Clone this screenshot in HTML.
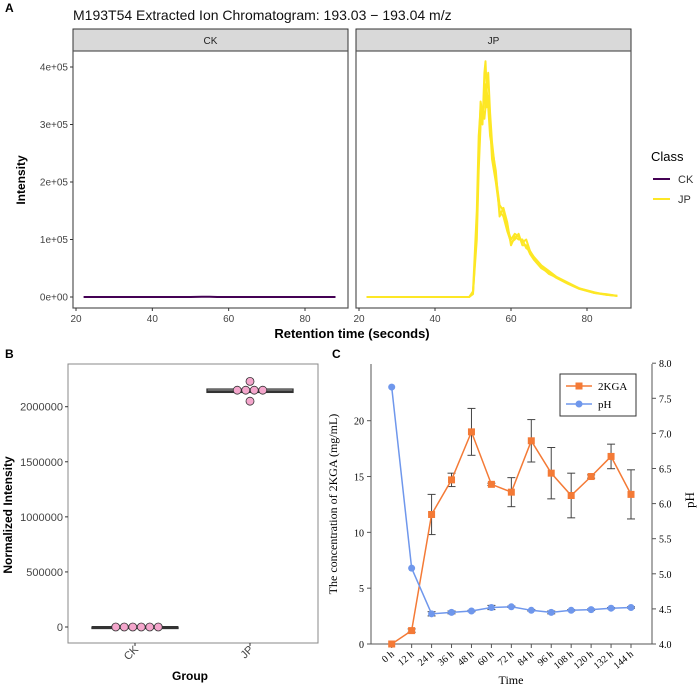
<!DOCTYPE html>
<html><head><meta charset="utf-8">
<style>
body{margin:0;background:#fff;}
svg{display:block;font-family:"Liberation Sans",sans-serif;}
.ser{font-family:"Liberation Serif",serif;}
</style></head>
<body>
<svg id="c" width="700" height="688" viewBox="0 0 700 688"></svg>
<script>
// Panel A data
const rtJP=[22,49,50,51,51.5,52,52.5,53,53.3,53.6,54,54.5,55,56,57,58,59,60,61,62,63,64,65,66,68,70,72,75,78,82,85,88];
const intJP1=[0,0,0.1,1.5,2.8,3.3,3.0,3.9,4.1,3.6,3.9,3.2,2.7,2.1,1.6,1.5,1.2,1.0,1.1,1.05,0.95,1.0,0.8,0.7,0.55,0.45,0.35,0.25,0.15,0.08,0.04,0.02];
const intJP2=[0,0,0.05,1.2,2.5,3.4,3.2,3.4,3.7,3.3,3.5,3.0,2.4,2.0,1.5,1.4,1.15,0.95,1.0,1.1,0.9,0.9,0.75,0.65,0.5,0.42,0.33,0.23,0.14,0.07,0.04,0.02];
const intJP3=[0,0,0.08,1.0,2.2,3.0,3.3,3.1,3.3,3.6,3.3,2.8,2.6,2.2,1.4,1.55,1.3,0.9,1.05,1.0,1.0,0.85,0.8,0.68,0.52,0.4,0.34,0.24,0.15,0.07,0.05,0.02];
const rtCK=[22,50,53,55,57,60,88];
const intCK=[0,0,0.005,0.003,0,0,0];
const aYTicks=[0,1,2,3,4];
const aYLabels=["0e+00","1e+05","2e+05","3e+05","4e+05"];
const aXTicks=[20,40,60,80];
// Panel B data
const bGroups=["CK","JP"];
const bCK=[0,0,0,0,0,0];
const bJP=[2150000,2150000,2150000,2150000,2230000,2050000];
const bBoxes=[[0,0,0],[2130000,2140000,2160000]];
const bYTicks=[0,500000,1000000,1500000,2000000];
// Panel C data
const cTimes=["0 h","12 h","24 h","36 h","48 h","60 h","72 h","84 h","96 h","108 h","120 h","132 h","144 h"];
const kga=[0,1.2,11.6,14.7,19,14.3,13.6,18.2,15.3,13.3,15,16.8,13.4];
const kgaErr=[0,0.15,1.8,0.6,2.1,0.1,1.3,1.9,2.3,2.0,0.15,1.1,2.2];
const ph=[7.66,5.08,4.43,4.45,4.47,4.52,4.53,4.48,4.45,4.48,4.49,4.51,4.52];
const phErr=[0,0,0.03,0.02,0.01,0.03,0.01,0.01,0.02,0.01,0.01,0.01,0.01];
const cLTicks=[0,5,10,15,20];
const cRTicks=[4.0,4.5,5.0,5.5,6.0,6.5,7.0,7.5,8.0];

const svg=document.getElementById('c');
const NS='http://www.w3.org/2000/svg';
function mk(tag,attrs,parent,txt){const e=document.createElementNS(NS,tag);for(const k in attrs)e.setAttribute(k,attrs[k]);if(txt!==undefined)e.textContent=txt;(parent||svg).appendChild(e);return e;}

let t;
t=mk('text',{x:5,y:12,'font-size':12,'font-weight':'bold'},svg,'A');
t=mk('text',{x:5,y:358,'font-size':12,'font-weight':'bold'},svg,'B');
t=mk('text',{x:332,y:358,'font-size':12,'font-weight':'bold'},svg,'C');
t=mk('text',{x:73,y:20,'font-size':14,fill:'#111'},svg,'M193T54 Extracted Ion Chromatogram: 193.03 − 193.04 m/z');

// Panel A
const aTop=51,aBot=308;
const ayS=v=>297-v*(297-67)/4;
const panels=[{x0:73,x1:348,name:'CK',xs:v=>76+(v-20)*(305-76)/60},{x0:356,x1:631,name:'JP',xs:v=>359+(v-20)*(587-359)/60}];
panels.forEach((p,i)=>{
  let r=mk('rect',{x:p.x0,y:29,width:p.x1-p.x0,height:22,fill:'#d9d9d9',stroke:'#333','stroke-width':1});
  
  let s=mk('text',{x:(p.x0+p.x1)/2,y:44,'font-size':10,'text-anchor':'middle',fill:'#222'},svg,p.name);
  
  r=mk('rect',{x:p.x0,y:aTop,width:p.x1-p.x0,height:aBot-aTop,fill:'#fff',stroke:'#555','stroke-width':1.2});
  
  aXTicks.forEach(v=>{const x=p.xs(v);mk('line',{x1:x,x2:x,y1:aBot,y2:aBot+3,stroke:'#333'});
    const l=mk('text',{x:x,y:aBot+14,'font-size':10,'text-anchor':'middle',fill:'#444'},svg,String(v));});
});
aYTicks.forEach((v,i)=>{const y=ayS(v);mk('line',{x1:70,x2:73,y1:y,y2:y,stroke:'#333'});
  const l=mk('text',{x:68,y:y+3.5,'font-size':10,'text-anchor':'end',fill:'#444'},svg,aYLabels[i]);});
function trace(xs,ys,xsf,color,name){const d=xs.map((x,i)=>(i?'L':'M')+xsf(x).toFixed(1)+','+ayS(ys[i]).toFixed(1)).join('');
  const p=mk('path',{d:d,fill:'none',stroke:color,'stroke-width':2,'stroke-linejoin':'round'});}
trace(rtCK,intCK,panels[0].xs,'#440154','ck-trace');
[intJP1,intJP2,intJP3].forEach((a,i)=>trace(rtJP,a,panels[1].xs,'#fde725','jp-trace-'+(i+1)));
t=mk('text',{x:0,y:0,'font-size':12,'font-weight':'bold',transform:'translate(25,180) rotate(-90)','text-anchor':'middle'},svg,'Intensity');
t=mk('text',{x:352,y:338,'font-size':13,'font-weight':'bold','text-anchor':'middle'},svg,'Retention time (seconds)');
const lg=mk('g',{});
mk('text',{x:651,y:161,'font-size':13},lg,'Class');
[['CK','#440154',179],['JP','#fde725',199]].forEach(([n,c,y])=>{const g=mk('g',{},lg);
  mk('line',{x1:653,x2:670,y1:y,y2:y,stroke:c,'stroke-width':2},g);mk('text',{x:678,y:y+4,'font-size':11,fill:'#333'},g,n);});

// Panel B
const bY=v=>627-v*(627-406.7)/2000000;
const bX=[135,250];
let r=mk('rect',{x:68,y:364,width:250,height:279,fill:'#fff',stroke:'#888','stroke-width':1});
bYTicks.forEach(v=>{const y=bY(v);mk('line',{x1:65,x2:68,y1:y,y2:y,stroke:'#333'});
  const l=mk('text',{x:63,y:y+4,'font-size':11,'text-anchor':'end',fill:'#444'},svg,String(v));});
bGroups.forEach((g,i)=>{const x=bX[i];mk('line',{x1:x,x2:x,y1:643,y2:646,stroke:'#333'});
  const l=mk('text',{x:0,y:0,'font-size':11,fill:'#444','text-anchor':'end',transform:`translate(${x+4},${650}) rotate(-45)`},svg,g);
  const b=bBoxes[i];const bx=mk('rect',{x:x-43,y:bY(b[2]),width:86,height:Math.max(1.5,bY(b[0])-bY(b[2])),fill:'#fff',stroke:'#333','stroke-width':1.3});
  
  mk('line',{x1:x-43,x2:x+43,y1:bY(b[1]),y2:bY(b[1]),stroke:'#333','stroke-width':2});
});
function dots(vals,cx,name){const groups={};vals.forEach(v=>{(groups[v]=groups[v]||[]).push(v);});
  Object.keys(groups).forEach(k=>{const n=groups[k].length;groups[k].forEach((v,j)=>{const x=cx+(j-(n-1)/2)*8.5;
    const c=mk('circle',{cx:x,cy:bY(v),r:4,fill:'#f4a6cc',stroke:'#333','stroke-width':0.8});});});}
dots(bCK,bX[0]+2,'ck-point');dots(bJP,bX[1],'jp-point');
t=mk('text',{x:0,y:0,'font-size':12,'font-weight':'bold',transform:'translate(12,515) rotate(-90)','text-anchor':'middle'},svg,'Normalized Intensity');
t=mk('text',{x:190,y:680,'font-size':12,'font-weight':'bold','text-anchor':'middle'},svg,'Group');

// Panel C
const cX=i=>391.7+i*(631-391.7)/12;
const cL=v=>644-v*(644-420.7)/20;
const cR=v=>644-(v-4)*(644-398.3)/3.5;
mk('line',{x1:371,x2:371,y1:364,y2:644,stroke:'#555'});
mk('line',{x1:652,x2:652,y1:364,y2:644,stroke:'#555'});
mk('line',{x1:371,x2:652,y1:644,y2:644,stroke:'#555'});
cLTicks.forEach(v=>{const y=cL(v);mk('line',{x1:367,x2:371,y1:y,y2:y,stroke:'#555'});
  const l=mk('text',{x:364,y:y+4,'font-size':10,'text-anchor':'end',class:'ser'},svg,String(v));});
cRTicks.forEach(v=>{const y=cR(v);mk('line',{x1:652,x2:656,y1:y,y2:y,stroke:'#555'});
  const l=mk('text',{x:659,y:y+4,'font-size':10,class:'ser'},svg,v.toFixed(1));});
cTimes.forEach((s,i)=>{const x=cX(i);mk('line',{x1:x,x2:x,y1:644,y2:648,stroke:'#555'});
  const l=mk('text',{x:0,y:0,'font-size':10,'text-anchor':'end',class:'ser',transform:`translate(${x+3},${655}) rotate(-40)`},svg,s);});
function errs(vals,e,ys,col,name){vals.forEach((v,i)=>{if(!e[i])return;const x=cX(i);const g=mk('g',{stroke:col,'stroke-width':1});
  mk('line',{x1:x,x2:x,y1:ys(v-e[i]),y2:ys(v+e[i])},g);mk('line',{x1:x-4,x2:x+4,y1:ys(v-e[i]),y2:ys(v-e[i])},g);mk('line',{x1:x-4,x2:x+4,y1:ys(v+e[i]),y2:ys(v+e[i])},g);});}
errs(kga,kgaErr,cL,'#444','kga-error-bar');
errs(ph,phErr,cR,'#444','ph-error-bar');
let p=mk('path',{d:kga.map((v,i)=>(i?'L':'M')+cX(i)+','+cL(v)).join(''),fill:'none',stroke:'#f47a36','stroke-width':1.5});
p=mk('path',{d:ph.map((v,i)=>(i?'L':'M')+cX(i)+','+cR(v)).join(''),fill:'none',stroke:'#6f97ec','stroke-width':1.5});
kga.forEach((v,i)=>{const m=mk('rect',{x:cX(i)-3.5,y:cL(v)-3.5,width:7,height:7,fill:'#f47a36'});});
ph.forEach((v,i)=>{const m=mk('circle',{cx:cX(i),cy:cR(v),r:3.5,fill:'#6f97ec'});});
const lc=mk('g',{});
mk('rect',{x:560,y:374,width:76,height:42,fill:'#fff',stroke:'#333'},lc);
mk('line',{x1:566,x2:592,y1:386,y2:386,stroke:'#f47a36','stroke-width':1.5},lc);mk('rect',{x:575.5,y:382.5,width:7,height:7,fill:'#f47a36'},lc);
mk('text',{x:598,y:390,'font-size':11,class:'ser'},lc,'2KGA');
mk('line',{x1:566,x2:592,y1:404,y2:404,stroke:'#6f97ec','stroke-width':1.5},lc);mk('circle',{cx:579,cy:404,r:3.5,fill:'#6f97ec'},lc);
mk('text',{x:598,y:408,'font-size':11,class:'ser'},lc,'pH');
t=mk('text',{x:0,y:0,'font-size':12,class:'ser',transform:'translate(337,504) rotate(-90)','text-anchor':'middle'},svg,'The concentration of 2KGA (mg/mL)');
t=mk('text',{x:0,y:0,'font-size':13,class:'ser',transform:'translate(694,500) rotate(-90)','text-anchor':'middle'},svg,'pH');
t=mk('text',{x:511,y:684,'font-size':12,class:'ser','text-anchor':'middle'},svg,'Time');
</script>
</body></html>
